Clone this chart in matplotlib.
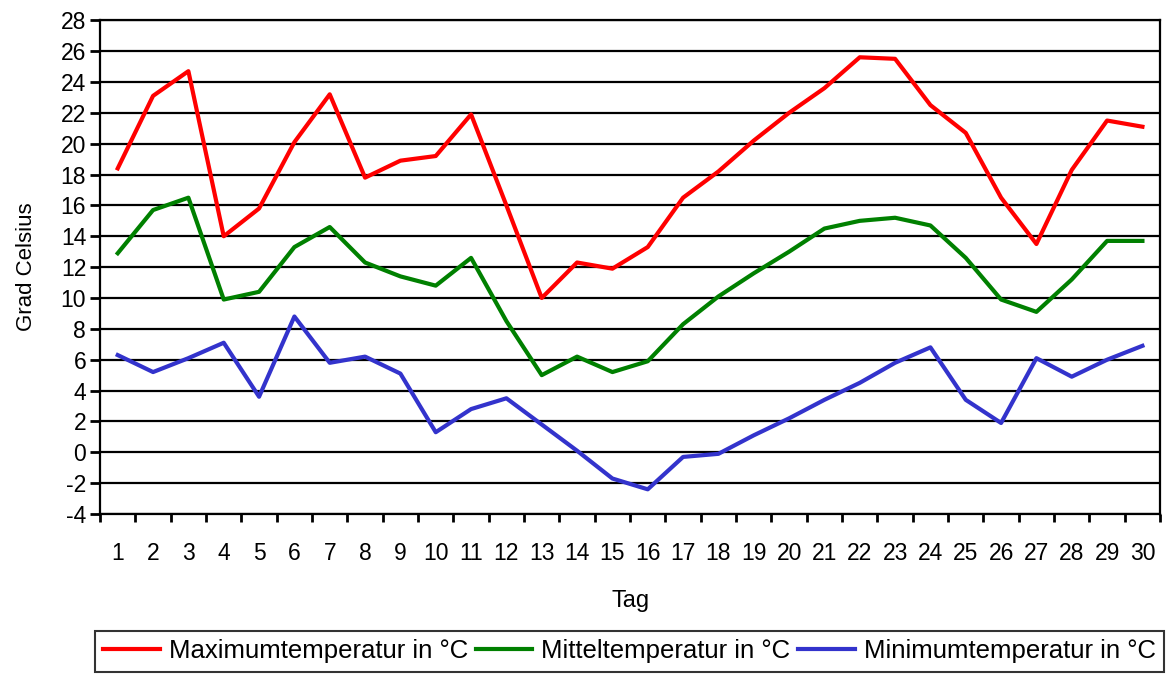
import numpy as np
import matplotlib.pyplot as plt
from matplotlib.ticker import FixedLocator

plt.rcParams['font.family'] = ['Liberation Sans', 'DejaVu Sans']
plt.rcParams['axes.unicode_minus'] = False

days = list(range(1, 31))
t_max = [18.4, 23.1, 24.7, 14.0, 15.8, 20.1, 23.2, 17.8, 18.9, 19.2,
         21.9, 16.0, 10.0, 12.3, 11.9, 13.3, 16.5, 18.2, 20.2, 22.0,
         23.6, 25.6, 25.5, 22.5, 20.7, 16.5, 13.5, 18.3, 21.5, 21.1]
t_mean = [12.9, 15.7, 16.5, 9.9, 10.4, 13.3, 14.6, 12.3, 11.4, 10.8,
          12.6, 8.5, 5.0, 6.2, 5.2, 5.9, 8.3, 10.1, 11.6, 13.0,
          14.5, 15.0, 15.2, 14.7, 12.6, 9.9, 9.1, 11.2, 13.7, 13.7]
t_min = [6.3, 5.2, 6.1, 7.1, 3.6, 8.8, 5.8, 6.2, 5.1, 1.3,
         2.8, 3.5, 1.8, 0.1, -1.7, -2.4, -0.3, -0.1, 1.1, 2.2,
         3.4, 4.5, 5.8, 6.8, 3.4, 1.9, 6.1, 4.9, 6.0, 6.9]

labels = ['Maximumtemperatur in °C', 'Mitteltemperatur in °C', 'Minimumtemperatur in °C']
colors = ['#ff0000', '#008000', '#3333cc']

fig = plt.figure(figsize=(11.73, 6.75), dpi=100)
ax = fig.add_axes([0.0853, 0.2385, 0.9037, 0.7315])

for series, lab, col in zip([t_max, t_mean, t_min], labels, colors):
  ax.plot(days, series, color=col, lw=3, label=lab, zorder=3)

ax.set_xlim(0.5, 30.5)
ax.set_ylim(-4, 28)
ax.set_yticks(np.arange(-4, 29, 2))
ax.set_xticks(days)
ax.xaxis.set_minor_locator(FixedLocator(np.arange(0.5, 31, 1)))
ax.tick_params(axis='x', which='major', length=0, pad=20, labelsize=16.5)
ax.tick_params(axis='x', which='minor', length=6, width=2, direction='out')
ax.tick_params(axis='y', length=7, width=2, direction='out', labelsize=16.5, pad=3)
ax.yaxis.grid(True, color='black', lw=1.6)
ax.set_axisbelow(True)
for s in ax.spines.values():
  s.set_linewidth(1.6)

ax.set_xlabel('Tag', fontsize=17, labelpad=18)
ax.set_ylabel('Grad Celsius', fontsize=16, labelpad=17)

leg = fig.legend(loc='center', bbox_to_anchor=(0.5367, 0.035),
                 ncol=3, fontsize=18.5, frameon=True, fancybox=False,
                 edgecolor='black', handlelength=2.2, handletextpad=0.35,
                 columnspacing=0.3, borderpad=0.32, borderaxespad=0)
leg.get_frame().set_linewidth(1.5)

plt.savefig('out.png', dpi=100)
